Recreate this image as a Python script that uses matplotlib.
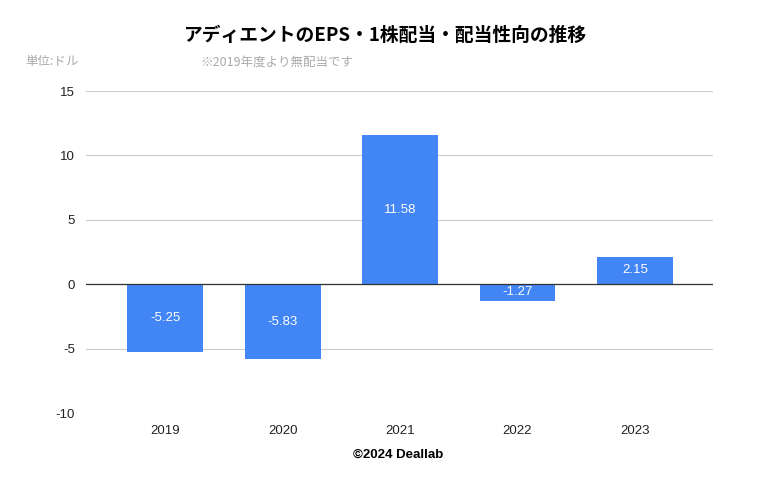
import matplotlib
matplotlib.use("Agg")
import matplotlib.pyplot as plt

plt.rcParams['font.family'] = ['Liberation Sans', 'Noto Sans CJK JP', 'DejaVu Sans']

years = ["2019", "2020", "2021", "2022", "2023"]
eps = [-5.25, -5.83, 11.58, -1.27, 2.15]
yticks = [-10, -5, 0, 5, 10, 15]

fig = plt.figure(figsize=(7.7, 4.78), dpi=100)
ax = fig.add_axes([86/770, 1-413/478, (713-86)/770, (413-91)/478])

x = list(range(len(years)))
ax.bar(x, eps, width=0.645, color="#4285F4", zorder=3)
for xi, v in zip(x, eps):
    ax.text(xi, v/2, f"{v:.2f}", ha="center", va="center", color="white", fontsize=9.5, zorder=4)

ax.set_xlim(-0.675, 4.665)
ax.set_ylim(-10, 15)
ax.set_yticks(yticks)
ax.set_yticklabels([str(t) for t in yticks], fontsize=9.5, color="#222222")
ax.set_xticks(x)
ax.set_xticklabels(years, fontsize=9.5, color="#222222")
ax.grid(axis="y", color="#cccccc", linewidth=0.8, zorder=0)
ax.axhline(0, color="#333333", linewidth=0.9, zorder=5)
for s in ax.spines.values():
    s.set_visible(False)
ax.tick_params(axis="y", length=0, pad=8)
ax.tick_params(axis="x", length=0, pad=9)

fig.text(385/770, 1-35/478, "アディエントのEPS・1株配当・配当性向の推移", ha="center", va="center",
         fontsize=13.5, fontweight="bold", color="#000000",
         family=['Noto Sans CJK JP', 'DejaVu Sans'])
fig.text(25/770, 1-62/478, "単位:ドル", ha="left", va="center", fontsize=9, color="#aaaaaa",
         family=['Noto Sans CJK JP', 'DejaVu Sans'])
fig.text(200/770, 1-62/478, "※2019年度より無配当です", ha="left", va="center", fontsize=9, color="#aaaaaa",
         family=['Noto Sans CJK JP', 'DejaVu Sans'])
fig.text(398/770, 1-455/478, "©2024 Deallab", ha="center", va="center", fontsize=9.5,
         fontweight="bold", color="#000000")

fig.savefig("out.png", dpi=100)
